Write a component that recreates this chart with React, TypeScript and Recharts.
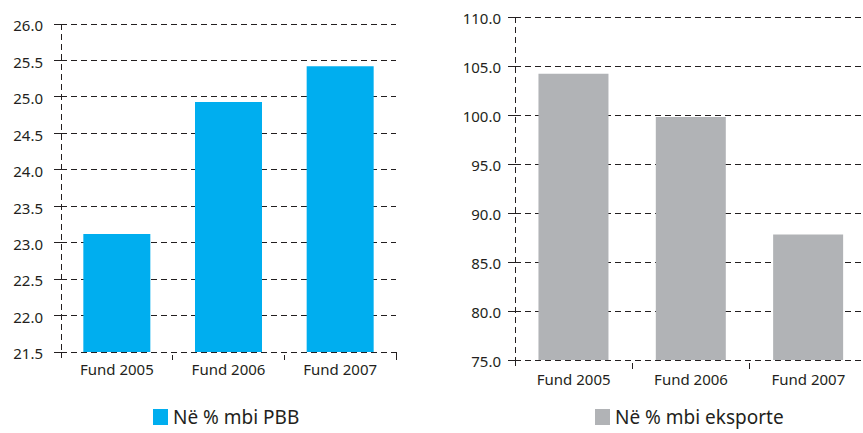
import React from 'react';
import { BarChart, Bar, XAxis, YAxis, CartesianGrid } from 'recharts';

const categories = ['Fund 2005', 'Fund 2006', 'Fund 2007'];
const pbbValues = [23.12, 24.93, 25.42];
const eksporteValues = [104.2, 99.8, 87.8];
const pbbTicks = [21.5, 22.0, 22.5, 23.0, 23.5, 24.0, 24.5, 25.0, 25.5, 26.0];
const eksporteTicks = [75, 80, 85, 90, 95, 100, 105, 110];
const pbbLabel = 'Në % mbi PBB';
const eksporteLabel = 'Në % mbi eksporte';

const pbbData = categories.map((name, i) => ({ name, value: pbbValues[i] }));
const eksporteData = categories.map((name, i) => ({ name, value: eksporteValues[i] }));

const BLUE = '#00AEEF';
const GRAY = '#B1B3B6';
const INK = '#231f20';
const FONT = '"Noto Sans", "Open Sans", sans-serif';

const makeTick = (halfBand: number, count: number, textDy: number, tickTop: number, tickBottom: number) => (props: any) => {
  const { x, y, payload, index } = props;
  return (
    <g shapeRendering="crispEdges">
      {index === 0 ? (
        <line x1={x - halfBand} x2={x - halfBand} y1={y} y2={y + tickBottom} stroke={INK} strokeWidth={1} strokeDasharray="6 4" />
      ) : (
        <line x1={x - halfBand} x2={x - halfBand} y1={y + tickTop} y2={y + tickBottom} stroke={INK} strokeWidth={1} />
      )}
      {index === count - 1 && (
        <line x1={x + halfBand} x2={x + halfBand} y1={y} y2={y + tickBottom} stroke={INK} strokeWidth={1} />
      )}
      <text x={x} y={y + textDy} textAnchor="middle" fill={INK} fontSize={15} fontFamily={FONT} shapeRendering="auto">
        {payload.value}
      </text>
    </g>
  );
};

const LegendItem = ({ color, label, left, top }: { color: string; label: string; left: number; top: number }) => (
  <div style={{ position: 'absolute', left, top, display: 'flex', alignItems: 'center', fontFamily: FONT, fontSize: 19, color: INK, whiteSpace: 'nowrap' }}>
    <span style={{ display: 'inline-block', width: 15, height: 16, background: color, marginRight: 5 }} />
    <span>{label}</span>
  </div>
);

export default function App() {
  const leftPlotW = 396 - 61;
  const rightPlotW = 867 - 515;
  return (
    <div style={{ position: 'absolute', left: 0, top: 0, width: 863, height: 433, overflow: 'hidden', background: '#fff', fontFamily: FONT }}>
      <div style={{ position: 'absolute', left: 0, top: 0 }}>
        <BarChart width={430} height={433} data={pbbData} margin={{ top: 24, right: 34, left: 0, bottom: 51 }} barCategoryGap="20%">
          <CartesianGrid vertical={false} stroke={INK} strokeDasharray="6 4" shapeRendering="crispEdges" />
          <XAxis
            dataKey="name"
            axisLine={false}
            tickLine={false}
            tickSize={0}
            tickMargin={0}
            height={30}
            interval={0}
            tick={makeTick(leftPlotW / 6, 3, 23, 3, 8)}
          />
          <YAxis
            domain={[21.5, 26]}
            ticks={pbbTicks}
            interval={0}
            width={61}
            tickSize={7}
            tickMargin={11}
            tickFormatter={(v: number) => v.toFixed(1)}
            tick={{ fill: INK, fontSize: 15, fontFamily: FONT, dy: 2 }}
            axisLine={{ stroke: INK, strokeDasharray: '6 4', shapeRendering: 'crispEdges' }}
            tickLine={{ stroke: INK, shapeRendering: 'crispEdges' }}
          />
          <YAxis
            yAxisId="border"
            orientation="right"
            width={0}
            tick={false}
            tickLine={false}
            axisLine={{ stroke: INK, strokeDasharray: '6 4', shapeRendering: 'crispEdges' }}
          />
          <Bar dataKey="value" fill={BLUE} isAnimationActive={false} />
        </BarChart>
      </div>
      <div style={{ position: 'absolute', left: 432, top: 0 }}>
        <BarChart width={435} height={433} data={eksporteData} margin={{ top: 17, right: 0, left: 0, bottom: 43 }} barCategoryGap="20%">
          <CartesianGrid vertical={false} stroke={INK} strokeDasharray="6 4" shapeRendering="crispEdges" />
          <XAxis
            dataKey="name"
            axisLine={false}
            tickLine={false}
            tickSize={0}
            tickMargin={0}
            height={30}
            interval={0}
            tick={makeTick(rightPlotW / 6, 3, 25, 3, 9)}
          />
          <YAxis
            domain={[75, 110]}
            ticks={eksporteTicks}
            interval={0}
            width={83}
            tickSize={7}
            tickMargin={7}
            tickFormatter={(v: number) => v.toFixed(1)}
            tick={{ fill: INK, fontSize: 15, fontFamily: FONT, dy: 2 }}
            axisLine={{ stroke: INK, strokeDasharray: '6 4', shapeRendering: 'crispEdges' }}
            tickLine={{ stroke: INK, shapeRendering: 'crispEdges' }}
          />
          <Bar dataKey="value" fill={GRAY} isAnimationActive={false} />
        </BarChart>
      </div>
      <LegendItem color={BLUE} label={pbbLabel} left={153} top={404} />
      <LegendItem color={GRAY} label={eksporteLabel} left={595} top={404} />
    </div>
  );
}
